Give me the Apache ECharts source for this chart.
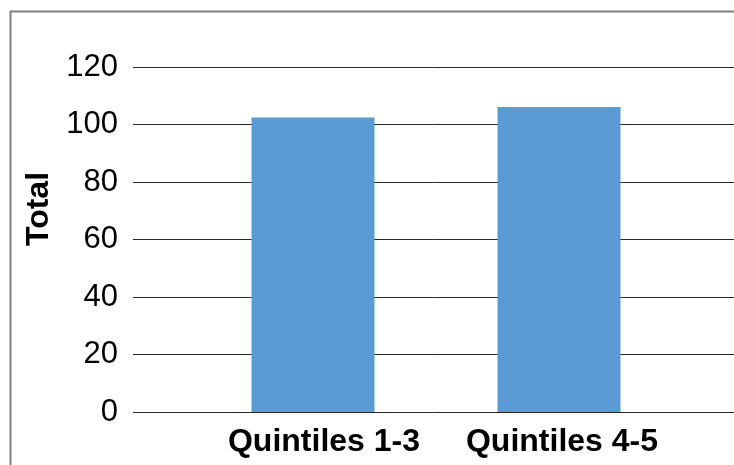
<!DOCTYPE html>
<html>
<head>
<meta charset="UTF-8" />
<title>Total by quintile</title>
<script src="https://cdn.jsdelivr.net/npm/echarts@6/dist/echarts.min.js"></script>
<style>
  html, body { margin: 0; padding: 0; background: #ffffff; }
  #chart { width: 734px; height: 465px; }
</style>
</head>
<body>
<div id="chart"></div>
<script>
// data
var categories = ['Quintiles 1-3', 'Quintiles 4-5'];
var totals = [102.4, 106.1];
var yTicks = [0, 20, 40, 60, 80, 100, 120];

var font = '"Liberation Sans", Arial, sans-serif';
var chart = echarts.init(document.getElementById('chart'));

// the original labels sit a little right of their bars
var labelShift = [22, 6];
var catData = categories.map(function (c, i) {
  return { value: c, textStyle: { padding: [0, 0, 0, labelShift[i]] } };
});

var option = {
  backgroundColor: '#ffffff',
  animation: false,
  grid: [
    // grid 0: y labels + gridlines, runs past the right edge like the cropped original
    { left: 133, right: -20, top: 67, bottom: 53 },
    // grid 1: the bars
    { left: 190, width: 492, top: 67, bottom: 53 }
  ],
  xAxis: [
    { gridIndex: 0, type: 'value', min: 0, max: 1, show: false },
    {
      gridIndex: 1, type: 'category', data: catData,
      axisLine: { show: false }, axisTick: { show: false },
      axisLabel: {
        interval: 0, hideOverlap: false,
        color: '#000', fontFamily: font, fontSize: 32, fontWeight: 'bold', margin: 14
      }
    }
  ],
  yAxis: [
    {
      gridIndex: 0, type: 'value', min: yTicks[0], max: yTicks[yTicks.length - 1], interval: 20,
      axisLine: { show: false }, axisTick: { show: false },
      axisLabel: { color: '#000', fontFamily: font, fontSize: 31, margin: 15 },
      splitLine: { lineStyle: { color: '#262626', width: 1 } }
    },
    { gridIndex: 1, type: 'value', min: 0, max: 120, show: false }
  ],
  series: [
    {
      type: 'bar', xAxisIndex: 1, yAxisIndex: 1,
      data: totals, barWidth: 123,
      itemStyle: { color: '#5b9bd5' }
    }
  ],
  graphic: [
    {
      type: 'rect', left: 8, top: 9, silent: true,
      shape: { width: 760, height: 500 },
      style: { fill: 'none', stroke: '#7f7f7f', lineWidth: 2 }
    },
    {
      type: 'text', x: 39, y: 209, rotation: Math.PI / 2,
      style: {
        text: 'Total', fill: '#000', font: 'bold 32px ' + font,
        align: 'center', verticalAlign: 'middle'
      }
    }
  ]
};
chart.setOption(option);
</script>
</body>
</html>
